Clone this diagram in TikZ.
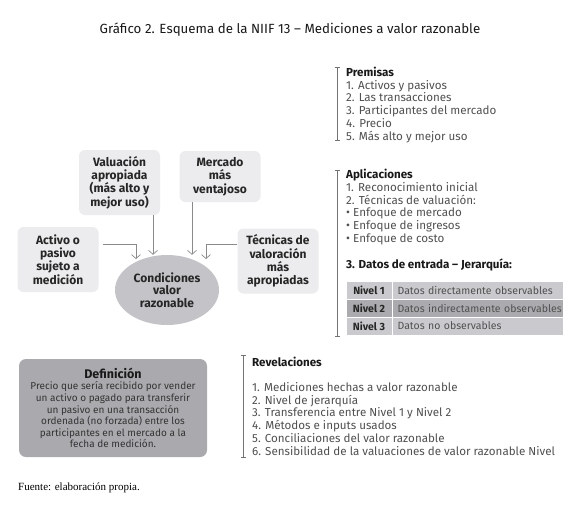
\documentclass[tikz,border=0pt]{standalone}
\usepackage{fontspec}
\setmainfont{Fira Sans}
\newfontfamily\fuentefont{Liberation Serif}
\usepackage{tikz}
\usetikzlibrary{arrows.meta,calc,shapes.geometric}
\definecolor{cajaclara}{HTML}{ECECEE}
\definecolor{elipse}{HTML}{C4C4C8}
\definecolor{cajaoscura}{HTML}{AAAAAE}
\definecolor{flecha}{HTML}{8A8A8A}
\definecolor{texto}{HTML}{505050}
\definecolor{tabclara}{HTML}{CACACE}
\definecolor{taboscura}{HTML}{ABABAF}
\tikzset{
caja/.style={fill=cajaclara,rounded corners=6pt,minimum width=81pt,align=center,font=\fontsize{12}{13.3}\selectfont\bfseries,text=black!85},
flec/.style={flecha,line width=.7pt,-{Straight Barb[length=4pt,width=9pt]}},
barra/.style={black!55,line width=.8pt,{Bar[width=5pt]}-{Bar[width=5pt]}},
lista/.style={anchor=base west,align=left,inner sep=0pt,font=\fontsize{11.6}{12.75}\selectfont,text=texto},
celda/.style={minimum height=18pt,inner ysep=0pt,draw=white,line width=.6pt,font=\fontsize{10.5}{12}\selectfont}
}
\begin{document}
\begin{tikzpicture}[x=1pt,y=-1pt]
\fill[white](0,0)rectangle(580,514);\useasboundingbox(0,0)rectangle(580,514);
\node[font=\fontsize{13.3}{15}\selectfont,text=black!90](titulo)at(290,30){Gráfico 2. Esquema de la NIIF 13 – Mediciones a valor razonable};
% cajas alrededor de la elipse
\node[caja,minimum height=65pt](val)at(119.5,182.5){Valuación\\apropiada\\(más alto y\\mejor uso)};
\node[caja,minimum height=51pt](mer)at(220,176.5){Mercado\\más\\ventajoso};
\node[caja,minimum height=65pt](act)at(58,259.5){Activo o\\pasivo\\sujeto a\\medición};
\node[caja,minimum height=65pt](tec)at(278,261){Técnicas de\\valoración\\más\\apropiadas};
\node[ellipse,fill=elipse,minimum width=104pt,minimum height=70pt,inner sep=0pt,align=center,font=\fontsize{12}{12.6}\selectfont\bfseries,text=black!85](cond)at(167,290){Condiciones\\valor\\razonable};
\draw[flec,shorten <=4pt]([yshift=15.5]act.east)-|($(cond.center)+(-31,-31)$);
\draw[flec]([xshift=33.5]val.south)--([xshift=33.5]val.south|-cond.north);
\draw[flec]([xshift=-28]mer.south)--([xshift=-28]mer.south|-cond.north);
\draw[flec]([yshift=17]tec.west)-|($(cond.center)+(39,-31)$);
% definicion
\node[fill=cajaoscura,rounded corners=7pt,minimum width=188pt,minimum height=98pt,align=center,font=\fontsize{10}{11.6}\selectfont,text=black!80](def)at(113,408){{\fontsize{12.5}{12}\selectfont\bfseries\color{black!90}Definición}\\Precio que sería recibido por vender\\un activo o pagado para transferir\\un pasivo en una transacción\\ordenada (no forzada) entre los\\participantes en el mercado a la\\fecha de medición.};
% listas (base = ultima linea)
\node[lista](pre)at(346,140){\textcolor{black!90}{\bfseries Premisas}\\1. Activos y pasivos\\2. Las transacciones\\3. Participantes del mercado\\4. Precio\\5. Más alto y mejor uso};
\draw[barra](337,67)--(337,141);
\node[lista](apl)at(346,268){\textcolor{black!90}{\bfseries Aplicaciones}\\1. Reconocimiento inicial\\2. Técnicas de valuación:\\{\large•} Enfoque de mercado\\{\large•} Enfoque de ingresos\\{\large•} Enfoque de costo\\[13pt]\textcolor{black!90}{\bfseries 3. Datos de entrada – Jerarquía:}};
\draw[barra](337,170)--(337,337);
\node[celda,fill=tabclara,minimum width=46pt,inner xsep=0pt,text=black!85,font=\fontsize{10.5}{12}\selectfont\bfseries](n1)at(369,290){Nivel 1};
\node[celda,fill=tabclara,text width=161pt,inner xsep=5pt,align=left,anchor=west,text=texto](d1)at(n1.east){\mbox{Datos directamente observables}};
\node[celda,fill=taboscura,minimum width=46pt,inner xsep=0pt,text=black!85,font=\fontsize{10.5}{12}\selectfont\bfseries](n2)at(369,308){Nivel 2};
\node[celda,fill=taboscura,text width=161pt,inner xsep=5pt,align=left,anchor=west,text=texto](d2)at(n2.east){\mbox{Datos indirectamente observables}};
\node[celda,fill=tabclara,minimum width=46pt,inner xsep=0pt,text=black!85,font=\fontsize{10.5}{12}\selectfont\bfseries](n3)at(369,326){Nivel 3};
\node[celda,fill=tabclara,text width=161pt,inner xsep=5pt,align=left,anchor=west,text=texto](d3)at(n3.east){\mbox{Datos no observables}};
\node[lista](rev)at(252,455){\textcolor{black!90}{\bfseries Revelaciones}\\[12.5pt]1. Mediciones hechas a valor razonable\\2. Nivel de jerarquía\\3. Transferencia entre Nivel 1 y Nivel 2\\4. Métodos e inputs usados\\5. Conciliaciones del valor razonable\\6. Sensibilidad de la valuaciones de valor razonable Nivel};
\draw[barra](243,355)--(243,458);
\node[lista,text=black,font=\fuentefont\fontsize{11}{12}\selectfont](fuente)at(18,490){Fuente: elaboración propia.};
\end{tikzpicture}
\end{document}
